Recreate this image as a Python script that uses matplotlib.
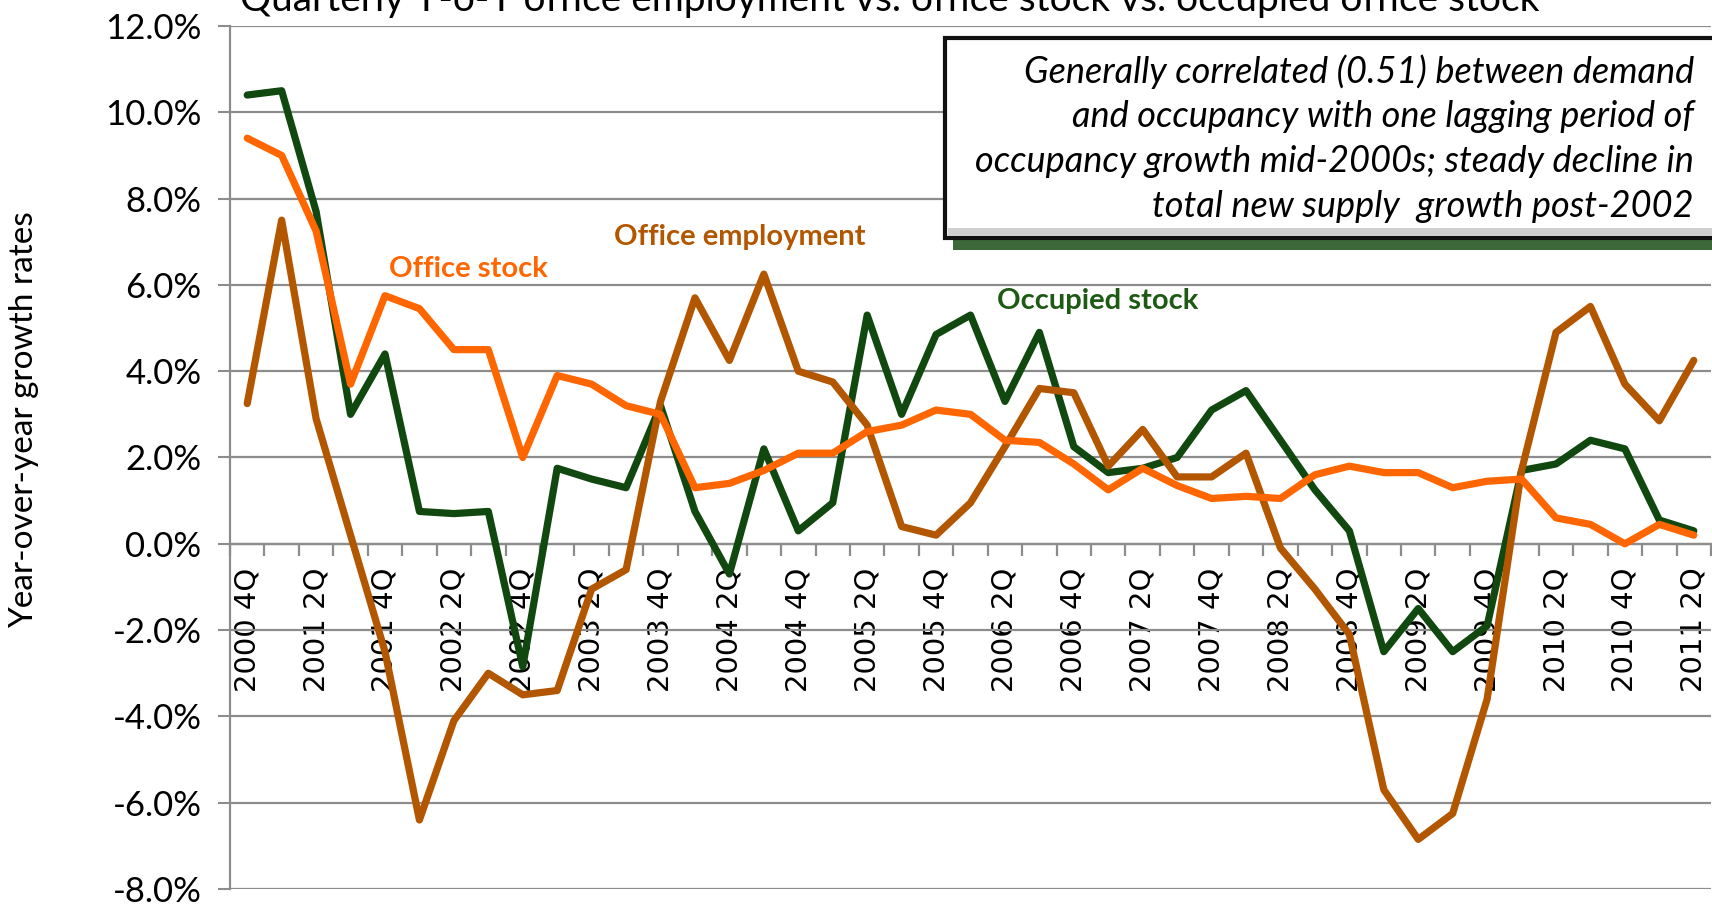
import matplotlib
matplotlib.use('Agg')
import matplotlib.pyplot as plt
from matplotlib.patches import Rectangle

# quarters 2000 4Q .. 2011 2Q
quarters = [
    "2000 4Q",
    "2001 1Q", "2001 2Q", "2001 3Q", "2001 4Q",
    "2002 1Q", "2002 2Q", "2002 3Q", "2002 4Q",
    "2003 1Q", "2003 2Q", "2003 3Q", "2003 4Q",
    "2004 1Q", "2004 2Q", "2004 3Q", "2004 4Q",
    "2005 1Q", "2005 2Q", "2005 3Q", "2005 4Q",
    "2006 1Q", "2006 2Q", "2006 3Q", "2006 4Q",
    "2007 1Q", "2007 2Q", "2007 3Q", "2007 4Q",
    "2008 1Q", "2008 2Q", "2008 3Q", "2008 4Q",
    "2009 1Q", "2009 2Q", "2009 3Q", "2009 4Q",
    "2010 1Q", "2010 2Q", "2010 3Q", "2010 4Q",
    "2011 1Q", "2011 2Q",
]

# year-over-year growth, %
occupied_stock = [
    10.4, 10.5, 7.7, 3.0, 4.4, 0.75, 0.7, 0.75, -2.85, 1.75, 1.5, 1.3,
    3.2, 0.75, -0.7, 2.2, 0.3, 0.95, 5.3, 3.0, 4.85, 5.3, 3.3, 4.9,
    2.25, 1.65, 1.75, 2.0, 3.1, 3.55, 2.4, 1.25, 0.3, -2.5, -1.5, -2.5,
    -1.9, 1.7, 1.85, 2.4, 2.2, 0.55, 0.3,
]
office_stock = [
    9.4, 9.0, 7.25, 3.7, 5.75, 5.45, 4.5, 4.5, 2.0, 3.9, 3.7, 3.2,
    3.0, 1.3, 1.4, 1.7, 2.1, 2.1, 2.6, 2.75, 3.1, 3.0, 2.4, 2.35,
    1.85, 1.25, 1.75, 1.35, 1.05, 1.1, 1.05, 1.6, 1.8, 1.65, 1.65, 1.3,
    1.45, 1.5, 0.6, 0.45, 0.0, 0.45, 0.2,
]
office_employment = [
    3.25, 7.5, 2.9, 0.2, -2.5, -6.4, -4.1, -3.0, -3.5, -3.4, -1.05, -0.6,
    3.3, 5.7, 4.25, 6.25, 4.0, 3.75, 2.75, 0.4, 0.2, 0.95, 2.25, 3.6,
    3.5, 1.8, 2.65, 1.55, 1.55, 2.1, -0.1, -1.05, -2.1, -5.7, -6.85, -6.25,
    -3.6, 1.7, 4.9, 5.5, 3.7, 2.85, 4.25,
]

GREEN = '#10480f'
BROWN = '#b35600'
ORANGE = '#ff6600'
GRID = '#8c8c8c'
CAL = ['Lato', 'DejaVu Sans']

W, H = 1712, 907
fig = plt.figure(figsize=(W / 100, H / 100), dpi=100)
ax = fig.add_axes([230 / W, 1 - 889 / H, 1481 / W, (889 - 26) / H])

# spine position first: moving it resets the ticks
ax.spines['bottom'].set_position(('data', 0))
for s in ('top', 'right'):
    ax.spines[s].set_visible(False)
for s in ('left', 'bottom'):
    ax.spines[s].set_color(GRID)
    ax.spines[s].set_linewidth(1.6)

x = list(range(len(quarters)))
lw = 5.2
ax.plot(x, occupied_stock, color=GREEN, lw=lw, solid_capstyle='round',
        solid_joinstyle='round', zorder=3)
ax.plot(x, office_employment, color=BROWN, lw=lw, solid_capstyle='round',
        solid_joinstyle='round', zorder=4)
ax.plot(x, office_stock, color=ORANGE, lw=lw, solid_capstyle='round',
        solid_joinstyle='round', zorder=5)

ax.set_xlim(-0.5, len(quarters) - 0.5)
ax.set_ylim(-8, 12)
yt = list(range(-8, 13, 2))
ax.set_yticks(yt)
ax.set_yticklabels([f"{v:.1f}%" for v in yt], family=CAL, fontsize=25)
ax.tick_params(axis='y', length=8.5, width=1.5, color=GRID, pad=12)
ax.grid(True, axis='y', color=GRID, lw=1.6, zorder=0)

ax.set_xticks(x[::2])
ax.set_xticklabels(quarters[::2], rotation=90, va='top', ha='center',
                   fontsize=21, family='DejaVu Sans')
ax.set_xticks([i - 0.5 for i in range(len(quarters) + 1)], minor=True)
ax.tick_params(axis='x', which='major', length=0, pad=17)
ax.tick_params(axis='x', which='minor', length=8.5, width=1.6, color=GRID,
               direction='out')
ax.set_axisbelow(True)

# series labels
ax.text(4.12, 6.38, 'Office stock', color=ORANGE, fontsize=21,
        fontweight='bold', family=CAL, va='center', ha='left')
ax.text(10.64, 7.11, 'Office employment', color=BROWN, fontsize=21,
        fontweight='bold', family=CAL, va='center', ha='left')
ax.text(21.76, 5.63, 'Occupied stock', color='#1d5a14', fontsize=21,
        fontweight='bold', family=CAL, va='center', ha='left')

# title, cut off at the top edge
fig.text(890 / W, 1 - 11 / H,
         'Quarterly Y-o-Y office employment vs. office stock vs. occupied office stock',
         ha='center', va='baseline', fontsize=28, family=CAL)

fig.text(24 / W, 1 - 420 / H, 'Year-over-year growth rates', rotation=90,
         ha='center', va='center', fontsize=24, family=CAL)

# note box with green shadow
bx0, by0, bx1, by1 = 945, 38, 1730, 238
fig.patches.append(Rectangle(((bx0 + 8) / W, 1 - (by1 + 12) / H),
                             (bx1 - bx0) / W, 20 / H, transform=fig.transFigure,
                             facecolor='#1a4f16', edgecolor='none', alpha=0.85,
                             zorder=10))
fig.patches.append(Rectangle((bx0 / W, 1 - by1 / H), (bx1 - bx0) / W,
                             (by1 - by0) / H, transform=fig.transFigure,
                             facecolor='white', edgecolor='#111111', lw=3,
                             zorder=11))
# soft bevel along the bottom and left inside edges
fig.patches.append(Rectangle(((bx0 + 3) / W, 1 - (by1 - 2) / H),
                             (bx1 - bx0) / W, 8 / H, transform=fig.transFigure,
                             facecolor='#d0d0d0', edgecolor='none', zorder=11.5))
note = [
    'Generally correlated (0.51) between demand',
    'and occupancy with one lagging period of',
    'occupancy growth mid-2000s; steady decline in',
    'total new supply  growth post-2002',
]
for k, line in enumerate(note):
    fig.text(1694 / W, 1 - (72 + 44.7 * k) / H, line, ha='right', va='center',
             fontsize=26, style='italic', family=CAL, zorder=12)

fig.savefig('out.png', dpi=100)
